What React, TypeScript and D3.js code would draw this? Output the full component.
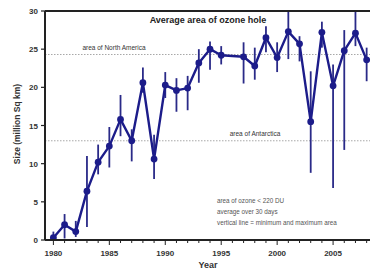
import { useEffect, useRef } from "react";
import * as d3 from "d3";

const years = [1980, 1981, 1982, 1983, 1984, 1985, 1986, 1987, 1988, 1989, 1990, 1991, 1992, 1993, 1994, 1995, 1997, 1998, 1999, 2000, 2001, 2002, 2003, 2004, 2005, 2006, 2007, 2008];
const values = [0.3, 2.0, 1.1, 6.4, 10.2, 12.3, 15.8, 13.0, 20.6, 10.6, 20.3, 19.6, 19.9, 23.2, 25.0, 24.2, 24.0, 22.8, 26.5, 23.9, 27.3, 25.7, 15.5, 27.2, 20.2, 24.8, 27.1, 23.6];
const mins = [0, 0.2, 0.4, 1.7, 8.6, 9.5, 13.6, 10.3, 19.3, 8.0, 18.6, 16.8, 17.0, 20.6, 22.3, 23.0, 20.5, 21.0, 24.6, 22.0, 23.7, 23.4, 8.8, 25.2, 6.8, 11.8, 25.4, 20.8];
const maxs = [1.1, 3.4, 2.5, 11.0, 12.5, 14.8, 19.0, 14.5, 22.6, 13.8, 22.0, 21.2, 21.5, 25.0, 26.0, 25.4, 25.9, 25.2, 28.0, 25.9, 31, 26.7, 22.1, 28.6, 23.0, 27.5, 30.5, 25.2];
const yTicks = [0, 5, 10, 15, 20, 25, 30];
const xTicks = [1980, 1985, 1990, 1995, 2000, 2005];
const refLines = [
  { name: "area of North America", value: 24.3 },
  { name: "area of Antarctica", value: 13.0 },
];
const notes = ["area of ozone < 220 DU", "average over 30 days", "vertical line = minimum and maximum area"];

export default function App() {
  const ref = useRef<SVGSVGElement>(null);

  useEffect(() => {
    if (!ref.current) return;
    const svg = d3.select(ref.current);
    svg.selectAll("*").remove();

    const W = 370, H = 272;
    const left = 45, right = 370, top = 11, bottom = 240;
    const x = d3.scaleLinear().domain([1979.25, 2008.3]).range([left, right]);
    const y = d3.scaleLinear().domain([0, 30]).range([bottom, top]);
    const blue = "#1c1c8a";
    const font = "Arial, 'Liberation Sans', sans-serif";

    svg.append("rect").attr("width", W).attr("height", H).attr("fill", "#fff");

    svg.append("clipPath").attr("id", "plotclip")
      .append("rect").attr("x", left).attr("y", top).attr("width", right - left).attr("height", bottom - top);

    // reference lines
    svg.selectAll("line.ref")
      .data(refLines)
      .join("line")
      .attr("x1", left).attr("x2", right)
      .attr("y1", (d) => y(d.value)).attr("y2", (d) => y(d.value))
      .attr("stroke", "#a8a8a8").attr("stroke-width", 1).attr("stroke-dasharray", "1.5,1.5");

    svg.append("text").attr("x", 114).attr("y", y(refLines[0].value) - 5)
      .attr("text-anchor", "middle").attr("font-family", font).attr("font-size", 6.5)
      .attr("fill", "#333").text(refLines[0].name);
    svg.append("text").attr("x", 255).attr("y", y(refLines[1].value) - 5)
      .attr("text-anchor", "middle").attr("font-family", font).attr("font-size", 6.5)
      .attr("fill", "#333").text(refLines[1].name);

    const pts = years.map((yr, i) => ({ yr, v: values[i], lo: mins[i], hi: maxs[i] }));
    const g = svg.append("g").attr("clip-path", "url(#plotclip)");

    // error bars
    g.selectAll("line.err")
      .data(pts)
      .join("line")
      .attr("x1", (d) => x(d.yr)).attr("x2", (d) => x(d.yr))
      .attr("y1", (d) => y(d.lo)).attr("y2", (d) => y(d.hi))
      .attr("stroke", "#2a2a88").attr("stroke-width", 1.8);

    const line = d3.line<any>().x((d) => x(d.yr)).y((d) => y(d.v));
    g.append("path").datum(pts).attr("d", line)
      .attr("fill", "none").attr("stroke", blue).attr("stroke-width", 2.4).attr("stroke-linejoin", "round");

    g.selectAll("circle")
      .data(pts)
      .join("circle")
      .attr("cx", (d) => x(d.yr)).attr("cy", (d) => y(d.v)).attr("r", 3.4)
      .attr("fill", blue);

    // frame
    svg.append("line").attr("x1", left).attr("x2", right).attr("y1", top).attr("y2", top)
      .attr("stroke", "#222").attr("stroke-width", 1.8);
    svg.append("line").attr("x1", left).attr("x2", right).attr("y1", bottom).attr("y2", bottom)
      .attr("stroke", "#222").attr("stroke-width", 2);
    svg.append("line").attr("x1", left).attr("x2", left).attr("y1", top).attr("y2", bottom)
      .attr("stroke", "#222").attr("stroke-width", 2);

    // y ticks
    svg.selectAll("line.yt")
      .data(yTicks)
      .join("line")
      .attr("x1", left - 4).attr("x2", left)
      .attr("y1", (d) => y(d)).attr("y2", (d) => y(d))
      .attr("stroke", "#222").attr("stroke-width", 1.2);
    svg.selectAll("text.yl")
      .data(yTicks)
      .join("text")
      .attr("x", left - 7).attr("y", (d) => y(d) + 3)
      .attr("text-anchor", "end").attr("font-family", font).attr("font-size", 8)
      .attr("font-weight", "bold").attr("fill", "#333")
      .text((d) => d);

    // x ticks
    svg.selectAll("line.xm")
      .data(d3.range(1980, 2009))
      .join("line")
      .attr("x1", (d) => x(d)).attr("x2", (d) => x(d))
      .attr("y1", bottom).attr("y2", (d) => bottom + (d % 5 === 0 ? 5 : 3))
      .attr("stroke", "#222").attr("stroke-width", 1);
    svg.selectAll("text.xl")
      .data(xTicks)
      .join("text")
      .attr("x", (d) => x(d)).attr("y", 256)
      .attr("text-anchor", "middle").attr("font-family", font).attr("font-size", 8)
      .attr("font-weight", "bold").attr("fill", "#333")
      .text((d) => d);

    // titles
    svg.append("text").attr("x", 208).attr("y", 23)
      .attr("text-anchor", "middle").attr("font-family", font).attr("font-size", 9)
      .attr("font-weight", "bold").attr("fill", "#222").text("Average area of ozone hole");
    svg.append("text").attr("x", 208).attr("y", 268)
      .attr("text-anchor", "middle").attr("font-family", font).attr("font-size", 9)
      .attr("font-weight", "bold").attr("fill", "#333").text("Year");
    svg.append("text").attr("transform", "translate(20,124) rotate(-90)")
      .attr("text-anchor", "middle").attr("font-family", font).attr("font-size", 8.5)
      .attr("font-weight", "bold").attr("fill", "#333").text("Size (million Sq km)");

    svg.selectAll("text.note")
      .data(notes)
      .join("text")
      .attr("x", 217).attr("y", (d, i) => 203 + i * 11)
      .attr("font-family", font).attr("font-size", 6.3).attr("fill", "#555")
      .text((d) => d);
  }, []);

  return (
    <div style={{ position: "fixed", left: 0, top: 0 }}>
      <svg ref={ref} width={370} height={272} style={{ display: "block" }} />
    </div>
  );
}
